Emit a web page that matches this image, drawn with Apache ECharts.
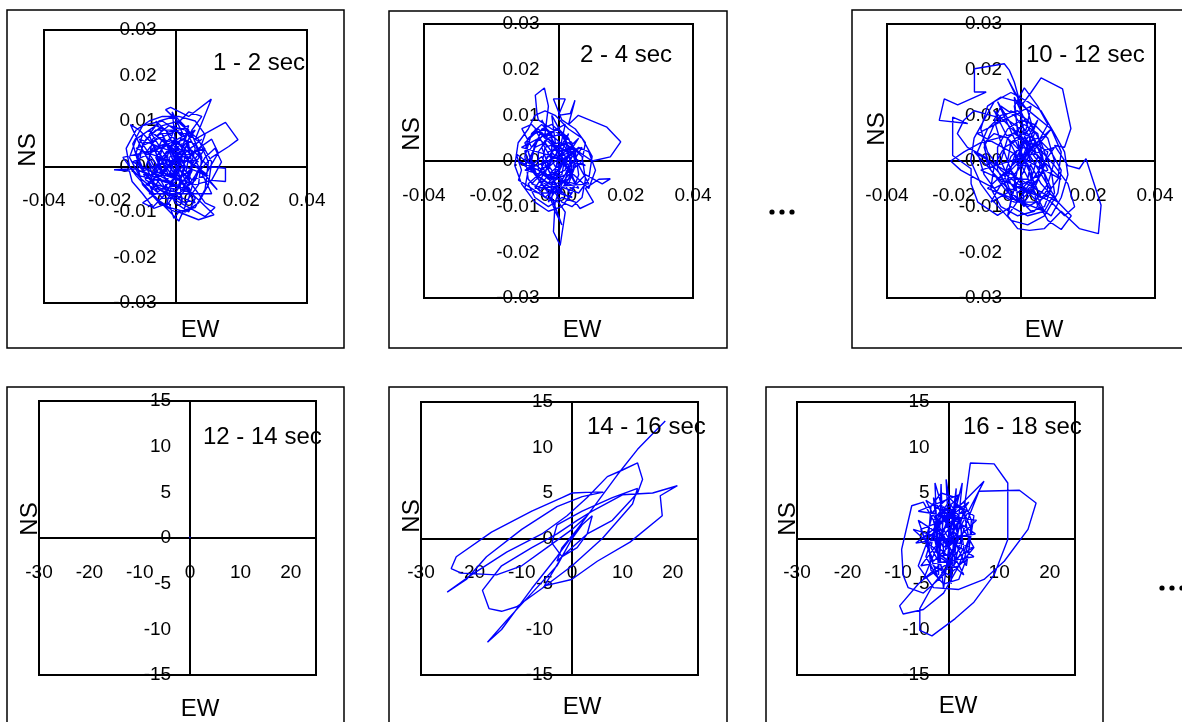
<!DOCTYPE html>
<html>
<head>
<meta charset="utf-8">
<script src="https://cdn.jsdelivr.net/npm/echarts@6/dist/echarts.min.js"></script>
<style>
  html, body { margin: 0; padding: 0; background: #ffffff; }
  #chart { width: 1182px; height: 722px; }
</style>
</head>
<body>
<div id="chart"></div>
<script>
// Particle-motion orbits (EW vs NS) for successive 2-second windows.

const windowLabels = ['1 - 2 sec', '2 - 4 sec', '10 - 12 sec', '12 - 14 sec', '14 - 16 sec', '16 - 18 sec'];
const xAxisName = 'EW';
const yAxisName = 'NS';

// Small-amplitude windows: tick labels
const smallEwTicks = [-0.04, -0.02, 0.00, 0.02, 0.04];
const smallNsTicks = [-0.03, -0.02, -0.01, 0.00, 0.01, 0.02, 0.03];
// Large-amplitude windows: tick labels
const largeEwTicks = [-30, -20, -10, 0, 10, 20];
const largeNsTicks = [-15, -10, -5, 0, 5, 10, 15];
const largeEwMax = 25;

// [EW, NS] samples for each window
const orbit01to02 = [
  [0,0],[0.003,0.004],[-0.002,0.006],[-0.006,0.002],[-0.003,-0.003],[0.002,-0.005],[0.005,-0.001],[0.004,0.005],
  [0,0.008],[-0.005,0.007],[-0.009,0.003],[-0.007,-0.002],[-0.002,-0.006],[0.003,-0.008],[0.007,-0.004],[0.008,0.002],
  [0.005,0.007],[0.001,0.010],[-0.004,0.009],[-0.009,0.006],[-0.012,0.001],[-0.010,-0.004],[-0.005,-0.008],[0,-0.010],
  [0.006,-0.009],[0.009,-0.005],[0.010,0.001],[0.007,0.006],[0.002,0.009],[-0.003,0.0125],[-0.0015,0.013],[0.004,0.011],
  [0.0109,0.0148],[0.006,0.006],[0.0152,0.0097],[0.019,0.0059],[0.0162,0.0044],[0.011,0.002],[0.006,-0.002],[0.002,-0.006],
  [-0.003,-0.005],[-0.006,-0.001],[-0.004,0.004],[0,0.006],[0.003,0.003],[0.002,-0.002],[-0.001,-0.004],[-0.005,-0.003],
  [-0.008,0.001],[-0.011,0.005],[-0.0137,0.0092],[-0.011,0.008],[-0.007,0.005],[-0.003,0.001],[0.001,-0.003],[0.005,-0.006],
  [0.008,-0.008],[0.0117,-0.0106],[0.007,-0.0117],[0.001,-0.010],[-0.0005,-0.0114],[-0.002,-0.008],[-0.0066,-0.0092],[-0.010,-0.006],
  [-0.0132,-0.0033],[-0.014,-0.001],[-0.0187,-0.0007],[-0.012,-0.0005],[-0.008,-0.002],[-0.004,-0.001],[0,0.002],[0.004,0.001],
  [0.008,-0.001],[0.0127,-0.0051],[0.010,-0.003],[0.0152,-0.0033],[0.0152,-0.0004],[0.010,0],[0.006,0.003],[0.002,0.005],
  [-0.002,0.003],[-0.005,0],[-0.007,-0.004],[-0.004,-0.007],[0.001,-0.007],[0.004,-0.004],[0.005,0.001],[0.003,0.006],
  [-0.001,0.005],[-0.004,0.002],[-0.003,-0.002],[0.001,-0.003],[0.003,0],[0.001,0.003],[-0.002,0.002],[-0.001,-0.001],
  [0.002,-0.001],[0.006,-0.005],[0.009,-0.008],[0.012,-0.009],[0.009,-0.011],[0.004,-0.009],[-0.001,-0.007],[-0.005,-0.005],
  [-0.009,-0.002],[-0.012,0.003],[-0.010,0.007],[-0.006,0.009],[-0.003,0.008],[0,0.004],[0.002,0],[-0.001,-0.003],
  [-0.006,-0.006],[-0.010,-0.008],[-0.007,-0.009],[-0.003,-0.006],[0,-0.002],[0.004,0.002],[0.007,0.004],[0.011,0.006],
  [0.013,0.003],[0.009,-0.002],[0.005,-0.003],[0.001,0.001],[-0.003,0.005],[-0.008,0.008],[-0.012,0.006],[-0.014,0.002],
  [-0.011,-0.002],[-0.006,-0.003],[-0.002,0],[0.002,0.004],[0.004,0.008],[0,0.011],[-0.005,0.010],[-0.008,0.007],
  [-0.006,0.003],[-0.002,-0.001],[0.003,-0.004],[0.006,-0.007],[0.004,-0.010],[0,-0.008],[-0.003,-0.004],[-0.001,0],
  [0.002,0.007],[-0.004,0.010],[-0.010,0.009],[-0.013,0.005],[-0.011,0],[-0.006,-0.004],[0,-0.005],[0.004,-0.002],
  [0.006,0.004],[0.003,0.008],[-0.002,0.009],[-0.007,0.006],[-0.008,0.002],[-0.005,-0.002],[-0.001,-0.002],[0.002,0.002],
  [0,0.005],[-0.004,0.006],[-0.006,0.003],[-0.004,-0.001],[0,-0.003],[0.004,-0.001],[0.007,0.003],[0.009,0.007],
  [0.006,0.010],[0.001,0.011],[-0.004,0.011],[-0.008,0.010],[-0.012,0.008],[-0.015,0.004],[-0.014,0],[-0.010,-0.003],
  [-0.005,-0.006],[0.001,-0.006],[0.006,-0.003],[0.008,0.001],[0.006,0.005],[0.002,0.006],[-0.002,0.004],[-0.003,0],
  [-0.001,-0.002],[0.003,-0.002],[0.004,0.002],[0.001,0.004],[-0.003,0.003],[-0.006,0],[-0.008,-0.004],[-0.006,-0.007],
  [-0.002,-0.009],[0.003,-0.010],[0.007,-0.008],[0.010,-0.004],[0.011,0.001],[0.008,0.005],[0.004,0.007],[-0.001,0.008],
  [-0.006,0.008],[-0.010,0.005],[-0.011,0.001],[-0.009,-0.003],[-0.004,-0.005],[0.001,-0.004],[0.003,0],[0,0.003],
  [-0.003,0.005],[-0.007,0.004],[-0.009,0],[-0.007,-0.003],[-0.003,-0.003],[0.001,0],[0.003,0.004],[0.005,0.008],
  [0.008,0.011],[0.004,0.012],[0,0.009],[-0.002,0.005],[-0.005,0.004],[-0.010,0.003],[-0.016,0.002],[-0.012,-0.002],
  [-0.007,-0.006],[-0.003,-0.009],[0.001,-0.012],[0.004,-0.007],[0.006,-0.002],[0.009,0.002],[0.012,0.004],[0.014,0.001],
  [0.011,-0.003],[0.006,-0.004],[0.002,-0.003],[-0.002,-0.002],[-0.004,0.001],[-0.002,0.004],[0.001,0.002],
  [0.008,0.006],[-0.009,-0.004],[0.006,-0.008],[-0.008,0.008],[0.010,-0.002],[-0.012,0.004],[0.004,0.009],[-0.003,-0.009],
  [0.009,0.004],[-0.010,-0.001],[0.005,-0.006],[-0.006,0.010],[0.007,0.001],[-0.011,0.006],[0.002,-0.008],[-0.001,0.012],
  [0.011,-0.006],[-0.008,-0.006],[0.006,0.008],[-0.013,0.001],[0.003,-0.005],[-0.004,0.007],[0,0]
];

const orbit02to04 = [
  [0,0],[-0.003,0.003],[-0.006,0.005],[-0.009,0.002],[-0.007,-0.003],[-0.003,-0.005],[0.002,-0.003],[0.004,0.001],
  [0.002,0.005],[-0.002,0.007],[-0.006,0.009],[-0.0064,0.0104],[-0.0069,0.0144],[-0.0042,0.016],[-0.003,0.012],[-0.004,0.006],
  [-0.008,0.003],[-0.0109,0.0071],[-0.008,0.008],[-0.004,0.005],[0,0.002],[0.003,-0.001],[0.005,-0.005],[0.003,-0.008],
  [0,-0.006],[-0.003,-0.002],[-0.005,0.001],[-0.008,-0.001],[-0.0126,0.0016],[-0.011,-0.002],[-0.0119,-0.0042],[-0.008,-0.006],
  [-0.004,-0.008],[0,-0.009],[0.002,-0.0112],[0.0005,-0.0185],[-0.0015,-0.0155],[-0.001,-0.009],[0.001,-0.005],[0.004,-0.002],
  [0.007,0],[0.008,0.004],[0.005,0.007],[0.001,0.009],[-0.0015,0.0136],[0.002,0.0136],[0,0.010],[0.0035,0.0104],
  [0.0049,0.0133],[0.003,0.008],[0.0059,0.010],[0.0144,0.0074],[0.0185,0.0042],[0.0154,0.0009],[0.010,0],[0.006,0.002],
  [0.003,0.004],[-0.001,0.003],[-0.004,0],[-0.006,-0.003],[-0.009,-0.005],[-0.007,-0.008],[-0.003,-0.010],[0.001,-0.008],
  [0.005,-0.009],[0.0064,-0.0104],[0.0104,-0.009],[0.008,-0.006],[0.012,-0.004],[0.0154,-0.0039],[0.013,-0.005],[0.008,-0.003],
  [0.004,-0.006],[0,-0.004],[-0.003,-0.001],[-0.005,0.003],[-0.003,0.006],[0,0.007],[0.003,0.005],[0.005,0.001],
  [0.004,-0.003],[0.001,-0.006],[-0.002,-0.007],[-0.005,-0.005],[-0.008,-0.002],[-0.010,0.002],[-0.009,0.005],[-0.006,0.007],
  [-0.002,0.004],[0.001,0.001],[0,-0.002],[-0.002,-0.003],[-0.004,-0.001],[-0.003,0.002],[0,0.003],[0.002,0.001],
  [0.001,-0.001],[-0.001,-0.004],[-0.002,-0.008],[0,-0.012],[0.001,-0.014],[-0.001,-0.011],[-0.003,-0.007],[-0.006,-0.004],
  [-0.009,0],[-0.007,0.003],[-0.004,0.004],[-0.001,0.001],[0.003,-0.002],[0.006,-0.004],[0.009,-0.006],[0.011,-0.002],
  [0.009,0.002],[0.006,0.003],[0.003,0.001],[0,-0.001],[-0.003,-0.003],[-0.006,-0.006],[-0.004,-0.008],[-0.001,-0.006],
  [0.002,-0.004],[0.004,0],[0.002,0.003],[-0.001,0.005],[-0.004,0.007],[-0.007,0.006],[-0.010,0.004],[-0.008,0],
  [-0.005,-0.002],[-0.002,0],[-0.002,0.006],[-0.005,0.008],[-0.008,0.006],[-0.010,0.001],[-0.009,-0.004],[-0.005,-0.007],
  [-0.001,-0.007],[0.003,-0.005],[0.005,-0.001],[0.004,0.004],[0.001,0.006],[-0.003,0.005],[-0.006,0.002],[-0.006,-0.002],
  [-0.003,-0.004],[0.001,-0.003],[0.002,0.001],[0,0.004],[-0.004,0.003],[-0.005,-0.001],[-0.002,-0.005],[0.002,-0.006],
  [0.006,-0.007],[0.009,-0.004],[0.010,0.001],[0.007,0.005],[0.003,0.007],[-0.001,0.010],[-0.004,0.011],[-0.007,0.010],
  [-0.009,0.007],[-0.012,0.004],[-0.013,-0.001],[-0.011,-0.005],[-0.007,-0.009],[-0.003,-0.011],[0.001,-0.010],[0.004,-0.007],
  [0.006,-0.003],[0.005,0.002],[0.002,0.004],[-0.002,0.002],[-0.003,-0.002],[-0.001,-0.005],[0.003,-0.004],[0.004,-0.001],
  [0.002,0.003],[-0.001,0.005],[-0.004,0.006],[-0.007,0.004],[-0.008,0],[-0.006,-0.004],[-0.002,-0.006],[0.001,-0.009],
  [0.004,-0.010],[0.007,-0.008],[0.008,-0.004],[0.007,0.001],[0.004,0.003],[0,0.002],[-0.003,0],[-0.004,-0.003],
  [-0.001,-0.003],[0.002,-0.002],[0.003,0.002],[0.001,0.006],[-0.002,0.008],[-0.005,0.007],[-0.007,0.003],[-0.009,-0.002],
  [-0.010,-0.006],[-0.006,-0.007],[-0.002,-0.004],
  [0.006,0.005],[-0.008,-0.005],[0.004,-0.008],[-0.007,0.007],[0.008,-0.001],[-0.011,0.003],[0.002,0.008],[-0.003,-0.009],
  [0.007,0.003],[-0.010,-0.002],[0.005,-0.005],[-0.005,0.009],[0.006,-0.006],[-0.012,0],[0.001,-0.007],[-0.002,0.010],
  [0.009,-0.005],[-0.007,-0.006],[0.003,0.006],[0,0]
];

const orbit10to12 = [
  [0,0],[0.004,0.004],[0.008,0.002],[0.006,-0.003],[0.002,-0.007],[-0.003,-0.005],[-0.006,0],[-0.004,0.005],
  [0.001,0.008],[0.005,0.006],[0.007,-0.001],[0.004,-0.006],[-0.001,-0.009],[-0.005,-0.006],[-0.009,-0.002],[-0.011,0.003],
  [-0.008,0.008],[-0.003,0.011],[0.002,0.009],[0.006,0.004],[0.009,-0.002],[0.010,-0.007],[0.007,-0.011],[0.002,-0.012],
  [-0.003,-0.010],[-0.007,-0.0119],[-0.0129,-0.009],[-0.0149,-0.005],[-0.0149,-0.0017],[-0.0204,0.0012],[-0.0204,0.0096],[-0.0159,0.0082],
  [-0.0244,0.0089],[-0.0229,0.0136],[-0.0189,0.0123],[-0.0104,0.0151],[-0.0139,0.0151],[-0.0139,0.0202],[-0.005,0.0213],[-0.0035,0.0199],
  [-0.002,0.0173],[0,0.012],[0.003,0.015],[0.006,0.0182],[0.0124,0.0158],[0.0149,0.0071],[0.013,0.003],[0.010,0.0034],
  [0.014,-0.001],[0.0174,-0.0017],[0.0194,0.0005],[0.0239,-0.0097],[0.0231,-0.0159],[0.0174,-0.0148],[0.012,-0.011],[0.007,-0.0148],
  [0.0025,-0.0152],[-0.001,-0.0148],[-0.004,-0.012],[-0.002,-0.006],[0.001,-0.002],[0.003,0.003],[0,0.007],[-0.004,0.009],
  [-0.009,0.010],[-0.014,0.011],[-0.017,0.009],[-0.019,0.006],[-0.016,0.003],[-0.011,0.001],[-0.006,-0.003],[-0.003,-0.008],
  [0.002,-0.010],[0.007,-0.008],[0.011,-0.004],[0.012,0.002],[0.009,0.007],[0.004,0.010],[-0.001,0.013],[-0.006,0.014],
  [-0.010,0.012],[-0.012,0.007],[-0.010,0.002],[-0.006,-0.002],[-0.001,-0.005],[0.004,-0.007],[0.009,-0.009],[0.013,-0.012],
  [0.016,-0.010],[0.014,-0.005],[0.010,-0.001],[0.005,0.003],[0,0.005],[-0.005,0.003],[-0.008,-0.001],[-0.009,-0.006],
  [-0.006,-0.010],[-0.001,-0.012],[0.004,-0.011],[0.008,-0.006],[0.006,0],[0.002,0.004],[-0.002,0.006],[-0.007,0.005],
  [-0.012,0.004],[-0.017,0.002],[-0.021,0],[-0.018,-0.002],[-0.013,-0.004],[-0.008,-0.006],[-0.003,-0.004],[0.001,0],
  [0.004,0.006],[0.002,0.011],[-0.002,0.015],[-0.004,0.018],[-0.001,0.014],[0.001,0.006],[0.003,-0.001],[0.006,-0.005],
  [0.011,-0.009],[0.015,-0.012],[0.012,-0.015],[0.008,-0.013],[0.005,-0.009],[0.001,-0.006],[-0.003,-0.002],[-0.006,0.004],
  [-0.008,0.009],[-0.006,0.012],[-0.002,0.010],[0.002,0.006],[0.005,0.001],[0.003,-0.004],[-0.001,-0.007],[-0.004,-0.004],
  [-0.002,0.001],[0.003,0.008],[-0.001,0.011],[-0.006,0.010],[-0.010,0.007],[-0.013,0.002],[-0.011,-0.003],[-0.007,-0.007],
  [-0.002,-0.009],[0.004,-0.009],[0.008,-0.005],[0.010,0],[0.008,0.005],[0.004,0.008],[0,0.009],[-0.004,0.007],
  [-0.007,0.003],[-0.007,-0.002],[-0.004,-0.006],[0.001,-0.007],[0.005,-0.004],[0.006,0.001],[0.004,0.005],[0,0.006],
  [-0.003,0.004],[-0.004,0],[-0.002,-0.004],[0.002,-0.004],[0.003,0],[0.001,0.003],[-0.002,0.002],[-0.001,-0.001],
  [0.002,-0.001],[0.005,-0.010],[0.009,-0.012],[0.012,-0.008],[0.014,-0.003],[0.013,0.002],[0.010,0.006],[0.006,0.011],
  [0.002,0.013],[-0.003,0.015],[-0.008,0.013],[-0.011,0.009],[-0.014,0.005],[-0.015,0],[-0.012,-0.005],[-0.008,-0.009],
  [-0.003,-0.013],[0.002,-0.014],[0.007,-0.012],[0.011,-0.007],[0.012,-0.002],[0.009,0.002],[0.005,0.005],[0.001,0.004],
  [-0.003,0.001],[-0.005,-0.003],[-0.003,-0.007],[0.001,-0.009],[0.004,-0.006],[0.003,-0.002],[0,0.002],[-0.004,0.005],
  [-0.008,0.006],[-0.011,0.004],[-0.010,-0.001],[-0.007,-0.004],[-0.003,-0.002],[0.001,0.001],[0.005,0.004],[0.008,0.008],
  [0.005,0.012],[0.001,0.016],[-0.002,0.012],[-0.001,0.007],[0.002,0.003],[0.006,-0.001],[0.009,-0.006],[0.007,-0.010],
  [0.003,-0.011],[-0.001,-0.008],[-0.002,-0.003],
  [0.009,0.007],[-0.010,-0.006],[0.007,-0.011],[-0.008,0.011],[0.012,-0.004],[-0.013,0.006],[0.003,0.012],[-0.004,-0.012],
  [0.010,0.003],[-0.012,-0.002],[0.006,-0.008],[-0.007,0.013],[0.011,-0.009],[-0.014,0.002],[0.001,-0.010],[-0.002,0.014],
  [0.008,-0.002],[-0.009,-0.009],[0.005,0.009],[0,0]
];

const orbit12to14 = [
  [0,0],[0.15,0.1],[-0.1,0.15],[-0.15,-0.1],[0.1,-0.15],[0,0]
];

const orbit14to16 = [
  [0,0],[2,1.5],[4,2.5],[3,0.5],[0,-1],[-3,-2.5],[-2,-1],[1,1],[3,2.5],[0,1],[-5,-1],[-10,-3],
  [-15,-4],[-22,-3.8],[-24,-3.3],[-23,-2],[-16,0.7],[-8,3],[-2,4.5],[0,5],[4,5.1],[6.2,5.1],[2,4.6],[-3,3.5],
  [-10,1],[-17,-2],[-21,-4.5],[-24.8,-5.9],[-20,-4],[-13,-1.5],[-6,0.5],[-1,2.5],[3,4.5],[7,6.8],[9.9,7.5],[13,8.3],
  [14,6.5],[13,5],[8,2],[3,0.5],[1,-1],[-2,-2],[-4,-0.5],[-3,1.5],[2,3],[8,4.5],[13,5.5],[12,3.8],
  [6,0],[0,-3],[-6,-5.5],[-11,-7.5],[-14,-8],[-16.5,-7.7],[-17.8,-5.7],[-14,-3],[-8,-1],[-3,0.5],[1,2],[4,3],
  [10,4.8],[16,5],[20.9,5.8],[17.5,4.7],[17.9,2.5],[11.5,-0.4],[5,-2.5],[-0.1,-4.5],[-5.5,-5.2],[-2,-2],[0,0],
  [-3,-3],[-8,-6],[-13,-9],[-16.8,-11.4],[-14,-10],[-8,-5.5],[-3,-2],[1,1],[5,4],[9,7],[13,9.8],[16,11.5],[18.5,12.9]
];

const orbit16to18 = [
  [0,0],[2,2],[-1,3],[-3,1],[-2,-2],[1,-3],[3,-1],[2,2.5],[0,4],[-2.5,2],[-3.5,-1],[-1,-3.5],
  [2,-3],[4,0],[3,3],[0,4.5],[-3,3],[-4.5,0],[-3,-3],[0,-4],[3,-2.5],[4.5,1],[2.5,3.5],[-1,3],
  [-3,0.5],[-2,-2],[1,-1.5],[2,1],[0,2],[-2,0],[-1,-1],[1,0],[0,1],[-2.7,6.1],[-2,-4],[-1.5,6],
  [-1,-2],[2.7,6.1],[1,-3],[3,1],[6,5.2],[14,5.3],[17.3,3.9],[15.7,1],[11,-2.5],[7,-4.5],[2,-5.6],[-3,-5.4],
  [-6,-3],[-4,0],[-1,2],[2,3.5],[7,6.3],[3,2],[0,-1],[-3,2],[-5,4],[-7.3,3.6],[-9.3,-1.2],[-9,-4],
  [-8,-5.4],[-5,-6],[-1,-4],[1,-1],[3,3],[4.3,8.3],[9,8.2],[11.7,6.1],[11.7,-0.1],[9,-4],[5,-7],[1.3,-8.8],
  [-3.3,-10.7],[-5.7,-10.1],[-5.7,-7.7],[-3,-5],[0,-3],[2,0],[-1,2.5],[-2,-3],[-6,-5],[-9.7,-7.4],[-9,-8.3],[-5,-7.8],
  [-1,-6],[2,-3],[3.5,-2],[5,-1],[4,0],[2,2],[-1,3.5],[-3,2],[-2,-1],[0,-2],[2,0],[1,2],[-1,1],[0,0],
  [1.5,4.5],[-1.5,5],[-3.5,3.5],[-4,0],[-3.5,-3.5],[-1,-5],[2,-4.5],[4,-1.5],[4.5,2],[3,4],[0.5,3],[-2,1.5],
  [-2.5,-1.5],[0,-2.5],[2.5,-1],[2.5,1.5],[0,2.5],[-1.5,0],[0,-1],[1,1],[-0.5,6.5],[0.5,-5],[1.5,5.5],[-1,-5.5],
  [-3,4.5],[3.5,-3],[5,2.5],[1,4],[-2,2.5],[-4.5,-2],[-2,-4.5],
  [-6,2],[5,-2],[-5.5,-3],[4,4],[-6.5,-0.5],[5.3,0.5],[-4.5,4.2],[3,-4],[-7,1],[4.8,-1],[-5,-4.5],[2,4.8],
  [-6,3],[5.5,2],[-3,-2.5],[-5.5,1],[3.5,3],[0,0]
];

const orbits = [orbit01to02, orbit02to04, orbit10to12, orbit12to14, orbit14to16, orbit16to18];

// Panel geometry (pixels): plot rectangle, frame, title anchor, axis-name anchors
const layout = [
  { plot: [44, 30, 263, 273],   frame: [7, 10, 337, 338],   title: [213, 63],  ns: [28, 150],  ew: [200, 330], small: true },
  { plot: [424, 24, 269, 274],  frame: [389, 11, 338, 337], title: [580, 55],  ns: [412, 134], ew: [582, 330], small: true },
  { plot: [887, 24, 268, 274],  frame: [852, 10, 345, 338], title: [1026, 55], ns: [877, 129], ew: [1044, 330], small: true },
  { plot: [39, 401, 277, 274],  frame: [7, 387, 337, 345],  title: [203, 437], ns: [30, 519],  ew: [200, 709], small: false },
  { plot: [421, 402, 277, 273], frame: [389, 387, 338, 345], title: [587, 427], ns: [412, 516], ew: [582, 707], small: false },
  { plot: [797, 402, 278, 273], frame: [766, 387, 337, 345], title: [963, 427], ns: [788, 519], ew: [958, 706], small: false }
];

const FONT = '"Liberation Sans", Arial, sans-serif';
const INK = '#000000';
const TRACE = '#0000ff';

function fixed2(v) {
  return (Math.abs(v) < 1e-9 ? 0 : v).toFixed(2);
}
function whole(v) {
  return String(Math.round(v));
}

const grids = [], xAxes = [], yAxes = [], series = [], graphics = [];

layout.forEach((p, i) => {
  const ewTicks = p.small ? smallEwTicks : largeEwTicks;
  const nsTicks = p.small ? smallNsTicks : largeNsTicks;
  const ewMin = ewTicks[0];
  const ewMax = p.small ? ewTicks[ewTicks.length - 1] : largeEwMax;
  const nsMin = nsTicks[0];
  const nsMax = nsTicks[nsTicks.length - 1];
  const [gx, gy, gw, gh] = p.plot;

  // axes cross at the origin: shift each axis from its grid edge to zero
  const xAxisShift = -gh * (0 - nsMin) / (nsMax - nsMin);
  const yAxisShift = -gw * (0 - ewMin) / (ewMax - ewMin);

  grids.push({
    left: gx, top: gy, width: gw, height: gh,
    show: true, borderColor: INK, borderWidth: 2, backgroundColor: 'transparent',
    containLabel: false, outerBoundsMode: 'none'
  });

  xAxes.push({
    gridIndex: i, type: 'value', position: 'bottom', offset: xAxisShift,
    min: ewMin, max: ewMax, interval: ewTicks[1] - ewTicks[0],
    axisLine: { onZero: false, lineStyle: { color: INK, width: 2 } },
    axisTick: { show: false },
    splitLine: { show: false },
    axisLabel: {
      margin: 25, fontSize: 19, color: INK, fontFamily: FONT,
      showMinLabel: true, showMaxLabel: p.small, hideOverlap: false,
      formatter: p.small ? fixed2 : whole
    }
  });

  yAxes.push({
    gridIndex: i, type: 'value', position: 'left', offset: yAxisShift,
    min: nsMin, max: nsMax, interval: nsTicks[1] - nsTicks[0],
    axisLine: { onZero: false, lineStyle: { color: INK, width: 2 } },
    axisTick: { show: false },
    splitLine: { show: false },
    axisLabel: {
      margin: 19, fontSize: 19, color: INK, fontFamily: FONT,
      showMinLabel: true, showMaxLabel: true, hideOverlap: false,
      formatter: p.small ? fixed2 : whole
    }
  });

  series.push({
    type: 'line', xAxisIndex: i, yAxisIndex: i,
    data: orbits[i],
    showSymbol: false, symbol: 'none', smooth: false,
    lineStyle: { color: TRACE, width: 1.4 },
    itemStyle: { color: TRACE },
    emphasis: { disabled: true },
    silent: true, z: 3
  });

  // outer frame
  graphics.push({
    type: 'rect', silent: true, z: 0,
    shape: { x: p.frame[0], y: p.frame[1], width: p.frame[2], height: p.frame[3] },
    style: { fill: 'none', stroke: INK, lineWidth: 1.5 }
  });
  // window label
  graphics.push({
    type: 'text', silent: true, z: 10, x: p.title[0], y: p.title[1],
    style: { text: windowLabels[i], font: '24px ' + FONT, fill: INK, textAlign: 'left', textVerticalAlign: 'middle' }
  });
  // axis names
  graphics.push({
    type: 'text', silent: true, z: 10, x: p.ns[0], y: p.ns[1], rotation: Math.PI / 2,
    style: { text: yAxisName, font: '24px ' + FONT, fill: INK, textAlign: 'center', textVerticalAlign: 'middle' }
  });
  graphics.push({
    type: 'text', silent: true, z: 10, x: p.ew[0], y: p.ew[1],
    style: { text: xAxisName, font: '24px ' + FONT, fill: INK, textAlign: 'center', textVerticalAlign: 'middle' }
  });
});

// continuation marks between the rows of windows
[[772, 212], [782, 212], [792, 212], [1162, 588], [1172, 588], [1182, 588]].forEach(([cx, cy]) => {
  graphics.push({
    type: 'circle', silent: true, z: 10,
    shape: { cx: cx, cy: cy, r: 2.6 },
    style: { fill: INK }
  });
});

const chart = echarts.init(document.getElementById('chart'), null, { renderer: 'canvas' });
chart.setOption({
  animation: false,
  backgroundColor: '#ffffff',
  grid: grids,
  xAxis: xAxes,
  yAxis: yAxes,
  series: series,
  graphic: { elements: graphics }
});
</script>
</body>
</html>
